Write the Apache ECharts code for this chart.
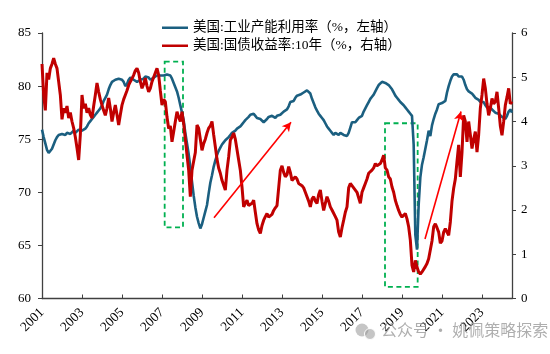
<!DOCTYPE html>
<html><head><meta charset="utf-8">
<script src="https://cdn.jsdelivr.net/npm/echarts@6/dist/echarts.min.js"></script>
<style>html,body{margin:0;padding:0;background:#fff}#c{width:550px;height:354px}</style>
</head><body><div id="c"></div>
<script>
// monthly points, index 0 = first month on the axis (labelled 2001)
const yearTickLabels = ['2001','2003','2005','2007','2009','2011','2013','2015','2017','2019','2021','2023'];
const monthsPerTick = 24;
const lastMonthIndex = 282;

const capUtil = [
 75.9,75.2,74.6,74.0,73.7,73.8,74.1,74.5,74.9,75.2,75.4,75.3,
 75.5,75.6,75.4,75.6,75.7,75.5,75.6,75.8,75.6,75.7,75.9,75.8,
 75.8,75.9,76.0,76.2,76.5,76.7,76.9,77.1,77.3,77.5,77.7,77.9,
 78.2,78.6,78.9,79.2,79.7,80.1,80.4,80.5,80.6,80.5,80.7,80.8,
 80.6,80.4,80.0,80.2,80.6,80.8,80.7,80.6,80.5,80.4,80.5,80.6,
 80.6,80.7,80.9,81.0,80.8,80.6,80.7,80.8,80.9,81.0,80.9,81.0,
 80.9,81.0,81.0,81.1,81.0,81.0,80.7,80.3,79.9,79.5,78.9,78.2,
 77.5,76.8,75.6,74.6,73.6,72.4,71.0,69.7,68.6,67.7,67.1,66.6,
 67.0,67.6,68.2,68.8,69.9,70.9,71.6,72.4,73.0,73.5,73.9,74.2,
 74.5,74.7,74.9,75.0,75.2,75.4,75.6,75.6,75.8,76.0,76.1,76.2,
 76.4,76.6,76.8,76.9,77.1,77.3,77.2,77.4,77.2,77.0,77.0,76.9,
 76.8,76.6,76.7,76.9,77.1,77.0,77.2,77.1,77.0,77.2,77.3,77.3,
 77.4,77.6,77.5,77.8,78.1,78.5,78.4,78.6,78.9,79.1,79.2,79.2,
 79.3,79.4,79.5,79.6,79.5,79.3,78.8,78.4,78.0,77.7,77.4,77.2,
 77.0,76.8,76.5,76.2,76.0,75.8,75.6,75.4,75.6,75.5,75.4,75.6,
 75.7,75.4,75.5,75.3,75.6,76.1,76.6,76.7,76.6,76.8,77.0,77.1,
 77.2,77.6,77.9,78.2,78.5,78.8,79.0,79.2,79.5,79.8,80.1,80.2,
 80.4,80.5,80.3,80.4,80.1,80.0,79.7,79.4,79.1,78.9,78.7,78.5,
 78.4,78.2,78.0,77.8,77.6,77.4,77.2,74.5,66.0,64.6,68.8,71.4,
 72.6,73.3,74.1,74.9,75.8,75.3,76.3,76.9,77.4,77.8,78.3,78.4,
 78.4,78.3,78.6,79.4,80.0,80.5,80.9,81.1,81.0,81.1,80.9,81.0,
 80.9,80.6,80.1,79.7,79.5,79.6,79.3,79.1,78.9,78.8,78.7,78.5,
 78.4,78.5,78.2,78.0,77.9,78.0,77.8,77.7,77.5,77.6,77.4,77.3,
 77.1,77.0,76.9,77.2,77.6,77.8,77.5
];

const yield10y = [
 5.3,4.6,4.25,5.1,4.95,5.2,5.3,5.43,5.3,5.2,4.9,4.6,
 4.05,4.3,4.2,4.35,4.08,4.2,4.0,3.85,3.65,3.4,3.13,3.7,
 4.6,4.3,4.4,4.2,4.3,4.15,4.08,4.35,4.6,4.87,4.67,4.5,
 4.37,4.25,4.14,4.3,4.53,4.3,4.0,4.2,4.37,4.15,3.92,4.15,
 4.37,4.5,4.6,4.7,4.82,4.9,4.97,5.05,5.15,5.2,5.1,4.9,
 4.75,4.85,4.98,4.8,4.67,4.75,4.9,5.0,5.1,5.2,5.05,4.7,
 4.37,4.5,4.45,4.1,3.84,3.9,3.54,3.77,4.0,4.22,4.1,4.0,
 4.22,3.95,3.6,3.24,2.9,2.3,2.9,3.1,3.3,3.92,3.85,3.6,
 3.35,3.5,3.6,3.74,3.85,3.9,4.0,3.7,3.43,3.15,2.95,2.83,
 2.67,2.7,2.45,2.9,3.2,3.58,3.65,3.74,3.6,3.58,3.13,2.9,
 2.52,2.07,2.15,2.22,2.1,2.07,2.15,2.22,1.95,1.69,1.55,1.47,
 1.65,1.77,1.85,1.92,1.84,1.8,1.9,1.99,2.05,2.1,2.5,2.9,
 3.0,2.85,2.75,2.8,2.98,2.85,2.67,2.7,2.75,2.7,2.6,2.62,
 2.55,2.5,2.4,2.37,2.2,2.07,2.25,2.3,2.2,2.15,2.35,2.45,
 2.2,1.99,2.15,2.3,2.2,2.07,2.0,1.99,1.85,1.77,1.5,1.39,
 1.6,1.77,1.95,2.07,2.5,2.6,2.55,2.52,2.45,2.4,2.37,2.15,
 2.4,2.5,2.6,2.7,2.83,2.85,2.9,2.95,3.05,3.0,2.98,3.05,
 3.13,3.24,2.95,2.9,2.75,2.7,2.52,2.4,2.22,2.1,1.99,1.9,
 1.84,1.85,1.92,1.8,1.62,1.32,0.75,0.6,0.86,0.71,0.6,0.55,
 0.6,0.64,0.72,0.79,0.9,0.94,1.3,1.62,1.69,1.6,1.5,1.25,
 1.3,1.5,1.58,1.5,1.43,1.73,2.2,2.49,2.7,3.1,3.47,2.75,
 3.3,4.14,4.0,3.54,4.0,3.7,3.39,3.6,3.77,3.31,3.7,4.3,
 4.6,4.97,4.75,4.4,4.14,4.3,4.52,4.4,4.45,4.67,4.3,3.9,
 3.69,4.0,4.37,4.55,4.75,4.4,4.45
];

const seriesNames = ['美国:工业产能利用率（%，左轴）','美国:国债收益率:10年（%，右轴）'];

// annotation boxes / arrows in data coordinates (month index, left-axis value)
const dashedBoxes = [ [[73.6,82.3],[84.6,66.7]], [[205.8,76.5],[225.4,61.1]] ];
const trendArrows = [ [[103.2,67.6],[149.4,76.6]], [[229.8,65.6],[251.4,77.6]] ];

const serif = "'Liberation Serif','Times New Roman','Noto Sans CJK SC',serif";
const axisColor = '#404040';
const tickValues = yearTickLabels.map((_, i) => i * monthsPerTick);

const chart = echarts.init(document.getElementById('c'), null, {renderer:'canvas'});
chart.setOption({
  animation: false,
  backgroundColor: '#fff',
  grid: {left: 42, right: 38, top: 33, bottom: 55.5, containLabel: false},
  legend: {
    orient: 'vertical', left: 157, top: 16, itemWidth: 26, itemHeight: 2.5, itemGap: 4.5,
    icon: 'rect',
    textStyle: {fontFamily: serif, fontSize: 13.5, color: '#000'},
    data: seriesNames
  },
  xAxis: {
    type: 'value', min: 0, max: lastMonthIndex, interval: monthsPerTick,
    axisLine: {show: true, onZero: false, lineStyle: {color: axisColor, width: 1.3}},
    axisTick: {show: true, inside: true, length: 4, lineStyle: {color: axisColor}, customValues: tickValues},
    axisLabel: {rotate: 45, margin: 12, fontFamily: serif, fontSize: 13.5, color: '#000',
      customValues: tickValues,
      formatter: v => yearTickLabels[Math.round(v / monthsPerTick)] || ''},
    splitLine: {show: false}
  },
  yAxis: [
    {type: 'value', min: 60, max: 85, interval: 5, position: 'left',
     axisLine: {show: true, lineStyle: {color: axisColor, width: 1.3}},
     axisTick: {show: true, length: 4, lineStyle: {color: axisColor}},
     axisLabel: {margin: 11, fontFamily: serif, fontSize: 13, color: '#000'},
     splitLine: {show: false}},
    {type: 'value', min: 0, max: 6, interval: 1, position: 'right',
     axisLine: {show: true, lineStyle: {color: axisColor, width: 1.3}},
     axisTick: {show: true, length: 4, lineStyle: {color: axisColor}},
     axisLabel: {margin: 9, fontFamily: serif, fontSize: 13, color: '#000'},
     splitLine: {show: false}}
  ],
  series: [
    {name: seriesNames[0], type: 'line', yAxisIndex: 0, symbol: 'none', z: 2,
     data: capUtil.map((v, i) => [i, v]),
     lineStyle: {color: '#1b5f80', width: 2.6}, itemStyle: {color: '#1b5f80'},
     markArea: {silent: true,
       itemStyle: {color: 'rgba(0,0,0,0)', borderColor: '#00b050', borderWidth: 1.8, borderType: [5, 3.5]},
       data: dashedBoxes.map(b => [{coord: b[0]}, {coord: b[1]}])},
     markLine: {silent: true, symbol: ['none', 'arrow'], symbolSize: [7, 9], label: {show: false},
       lineStyle: {color: '#ff0000', width: 1.6, type: 'solid'},
       data: trendArrows.map(a => [{coord: a[0]}, {coord: a[1]}])}
    },
    {name: seriesNames[1], type: 'line', yAxisIndex: 1, symbol: 'none', z: 3,
     data: yield10y.map((v, i) => [i, v]),
     lineStyle: {color: '#c00000', width: 3}, itemStyle: {color: '#c00000'}}
  ],
  graphic: [
    {type: 'circle', shape: {cx: 362, cy: 330, r: 6.5}, style: {fill: 'rgba(150,150,150,0.55)'}, z: 100},
    {type: 'circle', shape: {cx: 370, cy: 334, r: 5.5}, style: {fill: 'rgba(150,150,150,0.55)', stroke: '#fff', lineWidth: 1}, z: 100},
    {type: 'text', left: 381, top: 322, z: 100,
     style: {text: '公众号 · 姚佩策略探索', fill: 'rgba(140,140,140,0.7)', font: "16px 'Noto Sans CJK SC'"}}
  ]
});
</script></body></html>
